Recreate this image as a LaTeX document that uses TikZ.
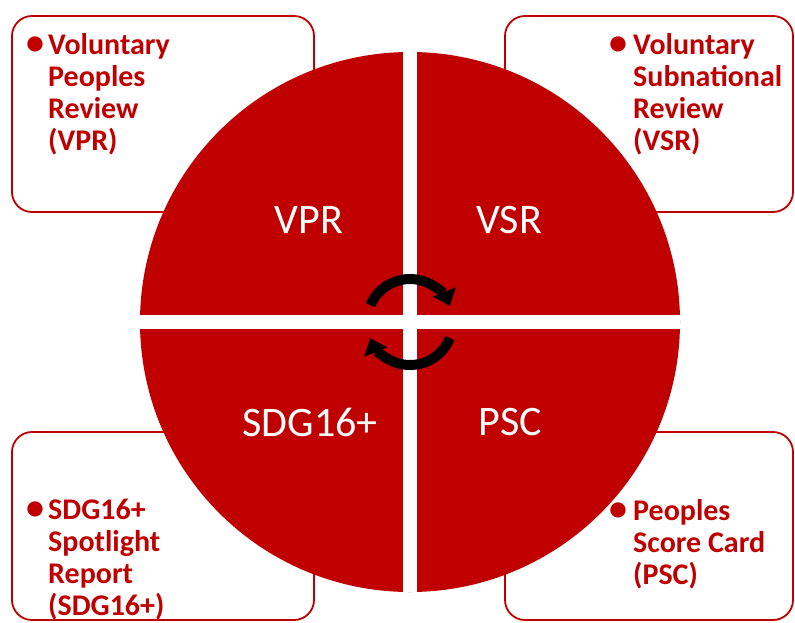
\documentclass[tikz,border=0pt]{standalone}
\usepackage{fontspec}
\setmainfont{Carlito}
\usepackage{tikz}
\usetikzlibrary{positioning, calc}
\usetikzlibrary{arrows.meta}

\begin{document}
\begin{tikzpicture}
    [x=1pt, y=1pt,
    card/.style={rectangle, draw=srred, line width=1.8pt, rounded corners=20pt, fill=white, inner sep=0pt},
    note/.style={anchor=base west, inner sep=0pt, text=srred, font=\fontsize{30}{32}\selectfont\bfseries},
    quad/.style={text=white, inner sep=0pt, font=\fontsize{42}{50}\selectfont},
    gap/.style={draw=white, line width=14pt},
    cyc/.style={-{Triangle[width=24pt,length=15pt]}, line width=10pt, draw=black}]
    \definecolor{srred}{RGB}{192,0,0};
    \newcommand{\dotmark}[1]{\makebox[#1][l]{\fontsize{36}{36}\selectfont\textbullet}}
    \useasboundingbox (0,0) rectangle (795,-622);
    \node [card, minimum width=302pt, minimum height=196pt] (VPRbox) at (163,-114) {};
    \node [card, minimum width=288pt, minimum height=196pt] (VSRbox) at (649,-114) {};
    \node [card, minimum width=302pt, minimum height=188pt] (SDGbox) at (163,-526) {};
    \node [card, minimum width=288pt, minimum height=188pt] (PSCbox) at (649,-526) {};
    \node [note] (VPRnote) at (26,-54) {\begin{tabular}[t]{@{}l@{}l@{}} \dotmark{22pt} & Voluntary\\ & Peoples\\ & Review\\ & (VPR)\end{tabular}};
    \node [note] (VSRnote) at (609,-54) {\begin{tabular}[t]{@{}l@{}l@{}} \dotmark{24pt} & Voluntary\\ & Subnational\\ & Review\\ & (VSR)\end{tabular}};
    \node [note] (SDGnote) at (26,-519) {\begin{tabular}[t]{@{}l@{}l@{}} \dotmark{22pt} & SDG16+\\ & Spotlight\\ & Report\\ & (SDG16+)\end{tabular}};
    \node [note] (PSCnote) at (609,-520) {\begin{tabular}[t]{@{}l@{}l@{}} \dotmark{24pt} & Peoples\\ & Score Card\\ & (PSC)\end{tabular}};
    \node [circle, fill=srred, minimum size=540pt, inner sep=0pt] (disc) at (410,-322) {};
    \draw [gap] (disc.north) -- (disc.south);
    \draw [gap] (disc.west) -- (disc.east);
    \node [quad] (VPR) at (309,-220) {VPR};
    \node [quad] (VSR) at (509,-220) {VSR};
    \node [quad] (SDG) at (310,-422) {SDG16+};
    \node [quad] (PSC) at (510,-422) {PSC};
    \coordinate (hub) at (410,-322);
    \draw [cyc] ([shift={(157:43)}]hub) arc [start angle=157, end angle=22, radius=43];
    \draw [cyc] ([shift={(-22:43)}]hub) arc [start angle=-22, end angle=-158, radius=43];
\end{tikzpicture}
\end{document}
